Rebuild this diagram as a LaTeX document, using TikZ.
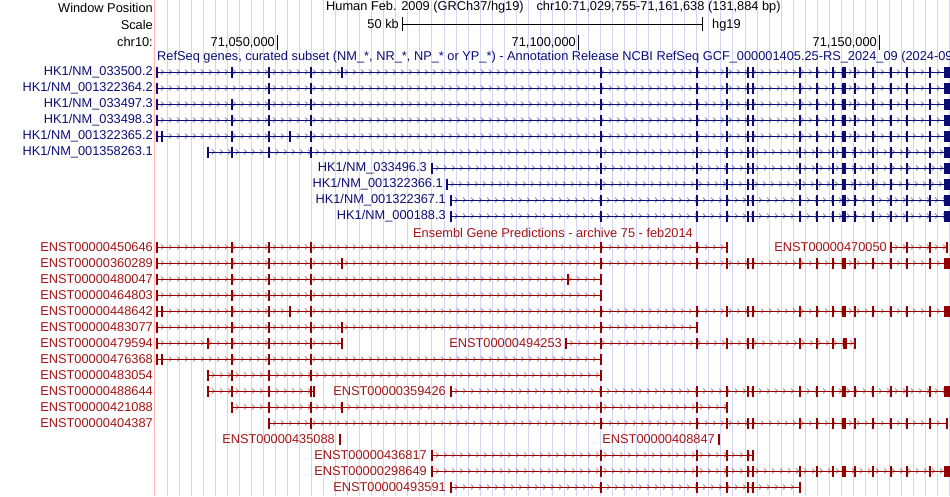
\documentclass[tikz,border=0pt]{standalone}
\usepackage{fontspec}
\setmainfont{Liberation Sans}
\definecolor{bl}{RGB}{12,12,120}
\definecolor{rd}{RGB}{150,0,0}
\definecolor{rl}{RGB}{165,20,20}
\definecolor{grd}{RGB}{212,212,246}
\definecolor{pk}{RGB}{255,180,180}
\newcommand\gn[4]{% y x1 x2 color
 \draw[#4,line width=0.9] (#2,#1)--(#3,#1);
 \pgfmathtruncatemacro\nch{(#3-#2-7)/8}
 \foreach \i in {0,...,\nch}{\draw[#4,line width=0.5,opacity=0.75] ({#2+4+8*\i},{#1-2.5})--({#2+6.5+8*\i},#1)--({#2+4+8*\i},{#1+2.5});}}
\newcommand\exs[3]{\foreach \p in {#3}{\draw[#2,line width=1.1] (\p,{#1-5.5})--(\p,{#1+5.5});}}
\newcommand\ext[3]{\foreach \p in {#3}{\draw[#2,line width=2.6] (\p,{#1-5.5})--(\p,{#1+5.5});}}
\newcommand\exb[3]{\fill[#2] (#3,{#1-5.5}) rectangle (950,{#1+5.5});}
\newcommand\full[2]{\exs{#1}{#2}{601,697,727,748,800,817,843,845,855,873,891,907}\ext{#1}{#2}{753,833,930}\exb{#1}{#2}{944}}
\tikzset{lab/.style={anchor=east,inner sep=0,font=\fontsize{12.8}{13}\selectfont}}
\begin{document}
\begin{tikzpicture}[x=1pt,y=-1pt]
\fill[white] (0,0) rectangle (950,496);
\useasboundingbox (0,0) rectangle (950,496);
\foreach \i in {0,...,65}{\draw[grd,line width=0.8] ({167+12.04*\i},0)--({167+12.04*\i},496);}
\draw[pk,line width=1] (154,0)--(154,496);
% header
\node[lab] (wp) at (153,8) {Window Position};
\node[lab] (sc) at (153,25) {Scale};
\node[lab] (ch) at (153,42) {chr10:};
\node[anchor=west,inner sep=0,font=\fontsize{12.8}{13}\selectfont] (hum) at (326,7) {Human Feb. 2009 (GRCh37/hg19)\hspace{1em}chr10:71,029,755-71,161,638 (131,884 bp)};
\node[lab] (kb) at (399,24) {50 kb};
\coordinate (s1) at (402,24); \coordinate (s2) at (702,24);
\draw[line width=0.9] (s1)--(s2); \draw[line width=0.9] (402,17)--(402,31) (702,17)--(702,31);
\node[anchor=west,inner sep=0,font=\fontsize{12.8}{13}\selectfont] (hg) at (712,25) {hg19};
\foreach \x/\t [count=\k] in {277/71{,}050{,}000,578/71{,}100{,}000,879/71{,}150{,}000}{
 \node[lab] (t\k) at (\x-2,43) {\t}; \draw[line width=0.9] (\x,35)--(\x,50);}
\node[anchor=west,inner sep=0,text=bl,font=\fontsize{12.8}{13}\selectfont] (rtit) at (157,57) {RefSeq genes, curated subset (NM\_*, NR\_*, NP\_* or YP\_*) - Annotation Release NCBI RefSeq GCF\_000001405.25-RS\_2024\_09 (2024-09-1};
% RefSeq rows
\node[lab,text=bl] (r1) at (153,72) {HK1/NM\_033500.2};
\gn{72}{157}{950}{bl}\exs{72}{bl}{157,232,269,311,342}\full{72}{bl}
\node[lab,text=bl] (r2) at (153,88) {HK1/NM\_001322364.2};
\gn{88}{157}{950}{bl}\exs{88}{bl}{157,311}\ext{88}{bl}{269}\full{88}{bl}
\node[lab,text=bl] (r3) at (153,104) {HK1/NM\_033497.3};
\gn{104}{157}{950}{bl}\exs{104}{bl}{157,232,311}\ext{104}{bl}{269}\full{104}{bl}
\node[lab,text=bl] (r4) at (153,120) {HK1/NM\_033498.3};
\gn{120}{157}{950}{bl}\exs{120}{bl}{157,232,311}\ext{120}{bl}{269}\full{120}{bl}
\node[lab,text=bl] (r5) at (153,136) {HK1/NM\_001322365.2};
\gn{136}{157}{950}{bl}\exs{136}{bl}{157,162,232,290,311}\ext{136}{bl}{269}\full{136}{bl}
\node[lab,text=bl] (r6) at (153,152) {HK1/NM\_001358263.1};
\gn{152}{208}{950}{bl}\exs{152}{bl}{232,311}\ext{152}{bl}{208,269}\full{152}{bl}
\node[lab,text=bl] (r7) at (427,168) {HK1/NM\_033496.3};
\gn{168}{432}{950}{bl}\ext{168}{bl}{432}\full{168}{bl}
\node[lab,text=bl] (r8) at (443,184) {HK1/NM\_001322366.1};
\gn{184}{447}{950}{bl}\exs{184}{bl}{447}\full{184}{bl}
\node[lab,text=bl] (r9) at (446,200) {HK1/NM\_001322367.1};
\gn{200}{451}{950}{bl}\exs{200}{bl}{451}\full{200}{bl}
\node[lab,text=bl] (r10) at (446,216) {HK1/NM\_000188.3};
\gn{216}{451}{950}{bl}\exs{216}{bl}{451}\full{216}{bl}
% Ensembl
\node[inner sep=0,text=rl,font=\fontsize{12.8}{13}\selectfont] (etit) at (553,233) {Ensembl Gene Predictions - archive 75 - feb2014};
\node[lab,text=rl] (e1) at (153,247) {ENST00000450646};
\gn{247}{157}{727}{rd}\exs{247}{rd}{157,232,311,601,697,727}\ext{247}{rd}{269}
\node[lab,text=rl] (e1b) at (887,247) {ENST00000470050};
\gn{247}{891}{947}{rd}\exs{247}{rd}{891,907,930,947}
\node[lab,text=rl] (e2) at (153,263) {ENST00000360289};
\gn{263}{157}{950}{rd}\exs{263}{rd}{157,232,269,311,342}\full{263}{rd}
\node[lab,text=rl] (e3) at (153,279) {ENST00000480047};
\gn{279}{157}{601}{rd}\exs{279}{rd}{157,232,269,311,568,601}
\node[lab,text=rl] (e4) at (153,295) {ENST00000464803};
\gn{295}{157}{601}{rd}\exs{295}{rd}{157,232,269,311,601}
\node[lab,text=rl] (e5) at (153,311) {ENST00000448642};
\gn{311}{157}{950}{rd}\exs{311}{rd}{157,162,232,290,311}\ext{311}{rd}{269}\full{311}{rd}
\node[lab,text=rl] (e6) at (153,327) {ENST00000483077};
\gn{327}{157}{697}{rd}\exs{327}{rd}{157,232,269,311,342,601,697}
\node[lab,text=rl] (e7) at (153,343) {ENST00000479594};
\gn{343}{157}{342}{rd}\exs{343}{rd}{157,232,269,311,342}\ext{343}{rd}{208}
\node[lab,text=rl] (e7b) at (562,343) {ENST00000494253};
\gn{343}{566}{855}{rd}\exs{343}{rd}{601,697,727,748,800,817}\ext{343}{rd}{566,753,833,855}\fill[rd] (843,337.5) rectangle (847,348.5);
\node[lab,text=rl] (e8) at (153,359) {ENST00000476368};
\gn{359}{157}{601}{rd}\exs{359}{rd}{157,162,232,269,311,601}
\node[lab,text=rl] (e9) at (153,375) {ENST00000483054};
\gn{375}{208}{601}{rd}\exs{375}{rd}{232,269,311,601}\ext{375}{rd}{208}
\node[lab,text=rl] (e10) at (153,391) {ENST00000488644};
\gn{391}{208}{314}{rd}\exs{391}{rd}{208,232,269,311,314}
\node[lab,text=rl] (e10b) at (446,391) {ENST00000359426};
\gn{391}{451}{950}{rd}\exs{391}{rd}{451}\full{391}{rd}
\node[lab,text=rl] (e11) at (153,407) {ENST00000421088};
\gn{407}{232}{727}{rd}\exs{407}{rd}{232,269,311,342,601,697,727}
\node[lab,text=rl] (e12) at (153,423) {ENST00000404387};
\gn{423}{269}{947}{rd}\exs{423}{rd}{269,311,601,697,727,748,800,817,843,845,855,873,891,907,947}\ext{423}{rd}{753,833,930}
\node[lab,text=rl] (e13) at (335,439) {ENST00000435088};
\ext{439}{rd}{340}
\node[lab,text=rl] (e13b) at (715,439) {ENST00000408847};
\exs{439}{rd}{719}
\node[lab,text=rl] (e14) at (427,455) {ENST00000436817};
\gn{455}{432}{753}{rd}\exs{455}{rd}{601,697,727,748}\ext{455}{rd}{432,753}
\node[lab,text=rl] (e15) at (427,471) {ENST00000298649};
\gn{471}{432}{950}{rd}\exs{471}{rd}{432}\full{471}{rd}
\node[lab,text=rl] (e16) at (446,487) {ENST00000493591};
\gn{487}{451}{800}{rd}\exs{487}{rd}{451,601,697,727,748,800}\ext{487}{rd}{753}
\end{tikzpicture}
\end{document}
